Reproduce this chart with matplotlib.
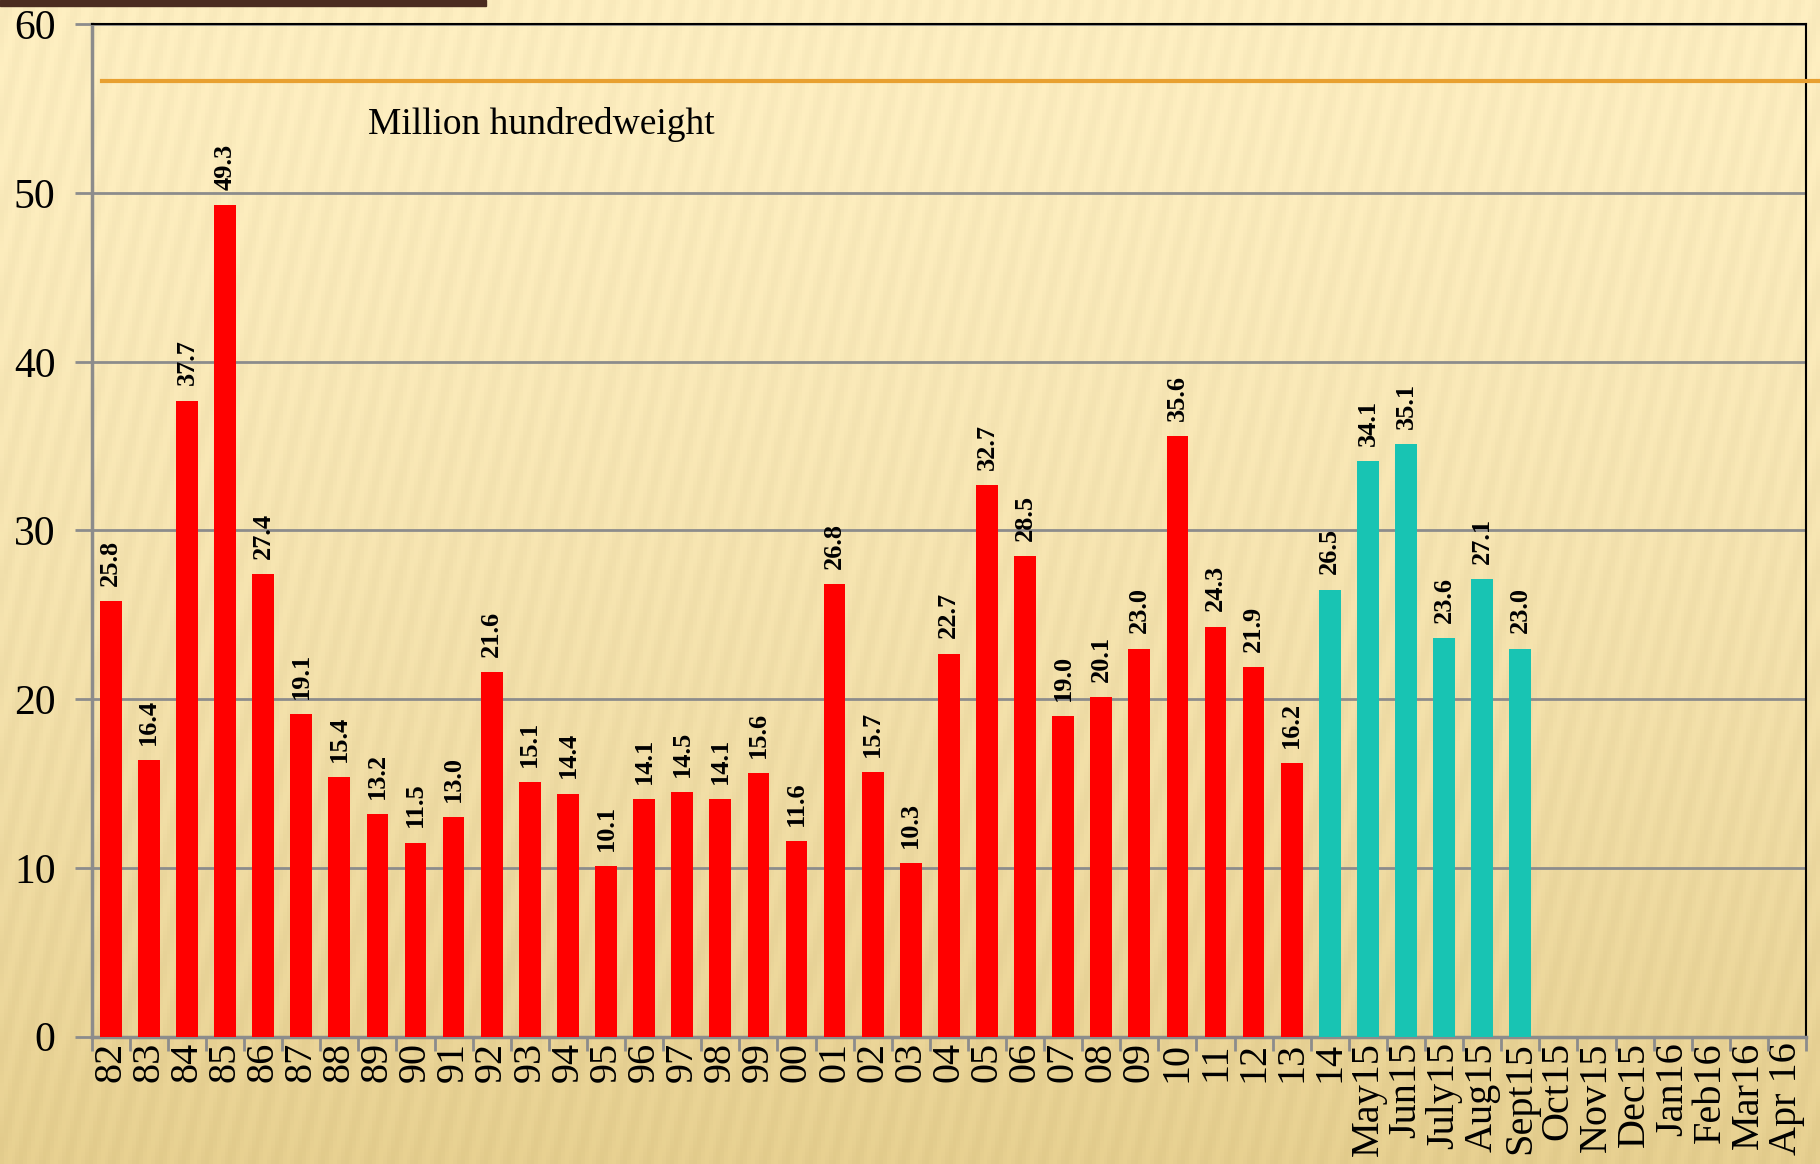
import numpy as np
import matplotlib
matplotlib.use("Agg")
import matplotlib.pyplot as plt
from matplotlib.lines import Line2D
from matplotlib.patches import Rectangle

# categories and values (million hundredweight)
years = ["82", "83", "84", "85", "86", "87", "88", "89", "90", "91", "92", "93",
         "94", "95", "96", "97", "98", "99", "00", "01", "02", "03", "04", "05",
         "06", "07", "08", "09", "10", "11", "12", "13"]
year_vals = [25.8, 16.4, 37.7, 49.3, 27.4, 19.1, 15.4, 13.2, 11.5, 13.0, 21.6, 15.1,
             14.4, 10.1, 14.1, 14.5, 14.1, 15.6, 11.6, 26.8, 15.7, 10.3, 22.7, 32.7,
             28.5, 19.0, 20.1, 23.0, 35.6, 24.3, 21.9, 16.2]
months = ["14", "May15", "Jun15", "July15", "Aug15", "Sept15"]
month_vals = [26.5, 34.1, 35.1, 23.6, 27.1, 23.0]
empty = ["Oct15", "Nov15", "Dec15", "Jan16", "Feb16", "Mar16", "Apr 16"]

labels = years + months + empty
red = "#FF0000"
teal = "#18C4B3"

plt.rcParams['font.family'] = ['Liberation Serif', 'DejaVu Serif']

fig = plt.figure(figsize=(18.2, 11.64), dpi=100)

# background: beige gradient with faint diagonal stripes
bg = fig.add_axes([0, 0, 1, 1], zorder=-10)
h, w = 300, 470
yy, xx = np.mgrid[0:h, 0:w]
base = np.array([1.0, 0.94, 0.76])
dark = np.array([0.91, 0.82, 0.57])
t = (yy / h) ** 1.5
stripes = 0.5 + 0.5 * np.sin((xx + 0.25 * yy) * 2 * np.pi / 6.0)
img = base[None, None, :] * (1 - t[..., None]) + dark[None, None, :] * t[..., None]
img = img - 0.025 * stripes[..., None]
bg.imshow(np.clip(img, 0, 1), aspect="auto", extent=[0, 1, 0, 1], origin="upper")
bg.set_xlim(0, 1)
bg.set_ylim(0, 1)
bg.axis("off")
bg.add_patch(Rectangle((0, 0.995), 0.267, 0.005, color="#4B2C20", transform=bg.transAxes))

ax = fig.add_axes([0.0504, 0.1095, 0.9419, 0.8695])
ax.set_facecolor("none")

x = np.arange(len(labels))
n1 = len(years)
n2 = len(months)
ax.bar(x[:n1], year_vals, width=0.57, color=red, zorder=3)
ax.bar(x[n1:n1 + n2], month_vals, width=0.57, color=teal, zorder=3)

for xi, v in zip(x[:n1 + n2], year_vals + month_vals):
    ax.text(xi, v + 0.9, f"{v:.1f}", rotation=90, ha="center", va="bottom",
            fontsize=19, fontweight="bold", zorder=4)

ax.set_xlim(-0.5, len(labels) - 0.5)
ax.set_ylim(0, 60)
ax.set_yticks(range(0, 61, 10))
ax.yaxis.grid(True, color="#8C8C8C", lw=2, zorder=1)
ax.set_axisbelow(True)

ax.set_xticks(x)
ax.set_xticklabels(labels, rotation=90, fontsize=29, va="top")
ax.set_xticks(np.arange(-0.5, len(labels), 1), minor=True)
ax.tick_params(axis="x", which="major", length=0, pad=4)
ax.tick_params(axis="x", which="minor", length=10, width=2, color="#8C8C8C", direction="out")
ax.tick_params(axis="y", labelsize=30, length=12, width=2, color="#8C8C8C", pad=14)

for s in ["left", "bottom"]:
    ax.spines[s].set_color("#8C8C8C")
    ax.spines[s].set_linewidth(2.5)
for s in ["top", "right"]:
    ax.spines[s].set_color("black")
    ax.spines[s].set_linewidth(1.5)

ax.text(0.161, 0.901, "Million hundredweight", transform=ax.transAxes,
        fontsize=27, ha="left", va="center")

# decorative orange rule from the slide theme
fig.add_artist(Line2D([0.056, 1.0], [0.930, 0.930], color="#E8A030", lw=3,
                      transform=fig.transFigure, zorder=2))

fig.savefig("out.png", dpi=100)
